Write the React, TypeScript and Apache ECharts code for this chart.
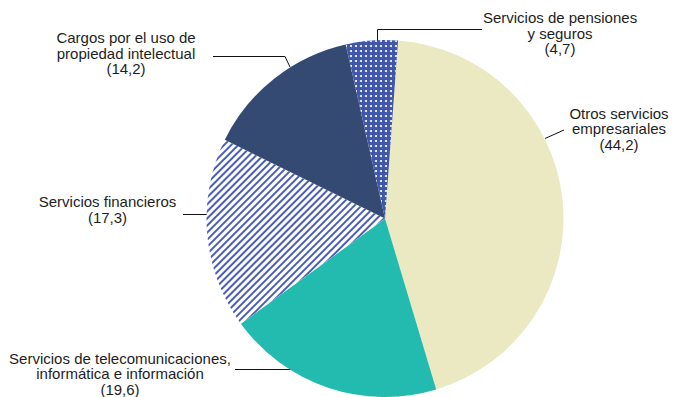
import React, { useEffect, useRef } from "react";
import * as echarts from "echarts";

// ---- data ----
const categories: string[] = [
  "Otros servicios\nempresariales",
  "Servicios de telecomunicaciones,\ninformática e información",
  "Servicios financieros",
  "Cargos por el uso de\npropiedad intelectual",
  "Servicios de pensiones\ny seguros",
];
const shares: number[] = [44.2, 19.6, 17.3, 14.2, 4.7];

// ---- styles / layout (not data) ----
const sliceColors = ["#EAE9C1", "#23BBAF", "#FFFFFF", "#344A73", "#3F56AA"];
const labelCenters: number[][] = [
  [619, 128.7],
  [120, 373.5],
  [107.5, 209.5],
  [126, 53],
  [560, 33],
];
const leaderLines: number[][][] = [
  [[545, 138.5], [564, 130], [564, 130]],
  [[293, 369.5], [235, 369.5], [235, 369.5]],
  [[207, 214.5], [183, 214.5], [183, 214.5]],
  [[290, 67], [285, 56.5], [213, 56.5]],
  [[377.5, 41.5], [377.5, 29.5], [482, 29.5]],
];

const fmt = (v: number) => v.toFixed(1).replace(".", ",");

export default function App() {
  const ref = useRef<HTMLDivElement>(null);
  useEffect(() => {
    document.body.style.margin = "0";
    const chart = echarts.init(ref.current!, undefined, { renderer: "svg" });
    const data = categories.map((name, i) => {
      const item: any = {
        name,
        value: shares[i],
        itemStyle: { color: sliceColors[i] },
      };
      if (i === 2) {
        item.itemStyle.decal = {
          symbol: "rect",
          symbolSize: 1,
          color: "#4A5FB5",
          dashArrayX: [1, 0],
          dashArrayY: [2, 3],
          rotation: -Math.PI / 4,
        };
      }
      if (i === 4) {
        item.itemStyle.decal = {
          symbol: "circle",
          symbolSize: 1,
          color: "#FFFFFF",
          dashArrayX: [2, 3],
          dashArrayY: [2, 3],
          rotation: 0,
        };
      }
      return item;
    });
    chart.setOption({
      animation: false,
      backgroundColor: "#FFFFFF",
      series: [
        {
          type: "pie",
          center: [385, 218.5],
          radius: 178.5,
          startAngle: 85.8,
          clockwise: true,
          avoidLabelOverlap: false,
          silent: true,
          itemStyle: { borderWidth: 0 },
          label: {
            show: true,
            position: "outside",
            formatter: (p: any) => `${p.name}\n(${fmt(p.value)})`,
            fontFamily: "'Liberation Sans', Arial, sans-serif",
            fontSize: 15,
            lineHeight: 15.5,
            color: "#1E1E1E",
            align: "center",
          },
          labelLine: {
            show: true,
            length: 10,
            length2: 10,
            lineStyle: { color: "#111111", width: 1 },
          },
          labelLayout: (params: any) => {
            const i = params.dataIndex;
            return {
              x: labelCenters[i][0],
              y: labelCenters[i][1],
              align: "center",
              verticalAlign: "middle",
              labelLinePoints: leaderLines[i],
            };
          },
          data,
        },
      ],
    });
    return () => chart.dispose();
  }, []);
  return <div ref={ref} style={{ width: 673, height: 397 }} />;
}
